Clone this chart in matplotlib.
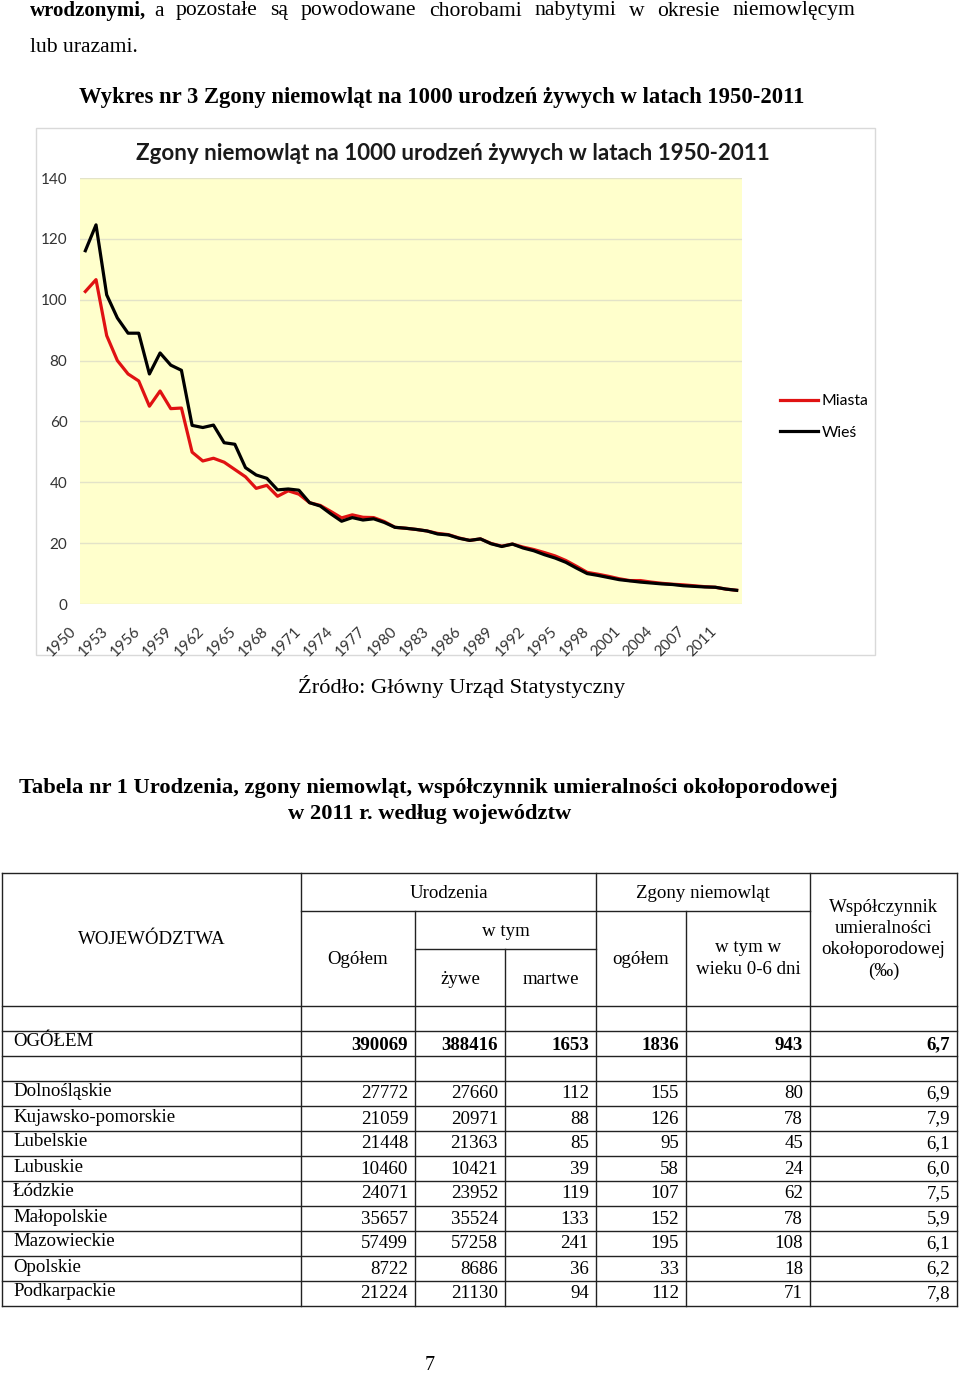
import matplotlib
matplotlib.use("Agg")
import matplotlib.pyplot as plt
from matplotlib.lines import Line2D
from matplotlib.patches import Rectangle
from matplotlib.transforms import ScaledTranslation

# ---------------- data ----------------
years = list(range(1950, 2012))
tick_labels = ['1950', '1953', '1956', '1959', '1962', '1965', '1968', '1971', '1974',
               '1977', '1980', '1983', '1986', '1989', '1992', '1995', '1998', '2001',
               '2004', '2007', '2011']
miasta = [102.7, 106.6, 88.2, 80.0, 75.6, 73.3, 65.0, 70.0, 64.2, 64.4,
          49.9, 47.0, 47.9, 46.6, 44.2, 41.8, 38.0, 39.0, 35.4, 37.2,
          36.1, 33.3, 32.4, 30.4, 28.3, 29.3, 28.5, 28.4, 27.1, 25.2,
          24.9, 24.5, 24.0, 23.2, 22.8, 21.7, 20.9, 21.4, 19.9, 19.0,
          19.7, 18.7, 17.9, 16.9, 15.8, 14.3, 12.4, 10.4, 9.8, 9.1,
          8.3, 7.7, 7.7, 7.2, 6.8, 6.5, 6.3, 6.0, 5.7, 5.5,
          4.9, 4.5]
wies = [116.1, 124.6, 101.6, 94.0, 89.0, 89.0, 75.6, 82.5, 78.5, 76.8,
        58.7, 58.0, 58.8, 53.0, 52.5, 44.8, 42.4, 41.3, 37.5, 37.8,
        37.4, 33.3, 32.2, 29.6, 27.2, 28.4, 27.6, 28.0, 26.8, 25.2,
        24.9, 24.5, 24.0, 23.0, 22.7, 21.6, 20.9, 21.4, 19.8, 18.9,
        19.7, 18.4, 17.5, 16.2, 15.1, 13.7, 11.8, 10.0, 9.4, 8.7,
        8.0, 7.6, 7.2, 6.9, 6.6, 6.4, 6.0, 5.8, 5.6, 5.5,
        4.9, 4.5]
y_ticks = [0, 20, 40, 60, 80, 100, 120, 140]

regions = ['Dolnośląskie', 'Kujawsko-pomorskie', 'Lubelskie', 'Lubuskie', 'Łódzkie',
           'Małopolskie', 'Mazowieckie', 'Opolskie', 'Podkarpackie']
ogolem = [27772, 21059, 21448, 10460, 24071, 35657, 57499, 8722, 21224]
zywe = [27660, 20971, 21363, 10421, 23952, 35524, 57258, 8686, 21130]
martwe = [112, 88, 85, 39, 119, 133, 241, 36, 94]
zgony = [155, 126, 95, 58, 107, 152, 195, 33, 112]
zgony06 = [80, 78, 45, 24, 62, 78, 108, 18, 71]
wspol = ['6,9', '7,9', '6,1', '6,0', '7,5', '5,9', '6,1', '6,2', '7,8']
total_row = ['390069', '388416', '1653', '1836', '943', '6,7']

# ---------------- figure ----------------
W, H = 960, 1375
fig = plt.figure(figsize=(W / 100, H / 100), dpi=100)
fig.patch.set_facecolor('white')
renderer = fig.canvas.get_renderer()

SERIF = ['Liberation Serif', 'DejaVu Serif']
SANS = ['Lato', 'DejaVu Sans']


def fx(px):
    return px / W


def fy(py):
    return 1 - py / H


def txt(x, y, s, size, ha='left', va='center', weight='normal', family=SERIF, color='black'):
    return fig.text(fx(x), fy(y), s, fontsize=size, ha=ha, va=va, fontweight=weight,
                    family=family, color=color)


def hline(x0, x1, y, color='#222222', lw=1.0):
    fig.add_artist(Line2D([fx(x0), fx(x1)], [fy(y), fy(y)], color=color, lw=lw,
                          transform=fig.transFigure))


def vline(x, y0, y1, color='#222222', lw=1.0):
    fig.add_artist(Line2D([fx(x), fx(x)], [fy(y0), fy(y1)], color=color, lw=lw,
                          transform=fig.transFigure))


# paragraph text (justified first line)
PS = 15.6
txt(30, 11, 'wrodzonymi,', 15, weight='bold')
words = ['a', 'pozostałe', 'są', 'powodowane', 'chorobami', 'nabytymi', 'w', 'okresie',
         'niemowlęcym']
objs = [txt(0, 11, w, PS) for w in words]
widths = [o.get_window_extent(renderer).width for o in objs]
gap = (855 - 154 - sum(widths)) / (len(words) - 1)
xcur = 154
for o, wd in zip(objs, widths):
    o.set_x(fx(xcur))
    xcur += wd + gap
txt(30, 48, 'lub urazami.', PS)
txt(442, 98, 'Wykres nr 3 Zgony niemowląt na 1000 urodzeń żywych w latach 1950-2011', 16.3,
    ha='center', weight='bold')

# chart frame
fig.add_artist(Rectangle((fx(36), fy(655)), fx(875) - fx(36), fy(128) - fy(655),
                         transform=fig.transFigure, facecolor='white',
                         edgecolor='#d9d9d9', lw=1.0, zorder=0))

# chart axes (plot area)
ax = fig.add_axes([fx(80), fy(604), fx(742) - fx(80), fy(178) - fy(604)])
ax.set_facecolor('#FFFFCC')
idx = list(range(len(years)))
l1, = ax.plot(idx, miasta, color='#E01212', lw=2.3, label='Miasta', zorder=3)
l2, = ax.plot(idx, wies, color='black', lw=2.3, label='Wieś', zorder=4)
ax.set_xlim(-0.5, len(years) - 0.5)
ax.set_ylim(0, 140)
ax.set_yticks(y_ticks)
ax.set_yticklabels([str(v) for v in y_ticks], family=SANS, fontsize=11, color='#333333')
ax.yaxis.grid(True, color='#E3E3C8', lw=1.0)
ax.set_axisbelow(True)
ax.set_xticks(list(range(0, len(tick_labels) * 3, 3)))
ax.set_xticklabels(tick_labels, rotation=45, ha='right', va='center',
                   rotation_mode='anchor', family=SANS, fontsize=11, color='#333333')
ax.tick_params(axis='both', length=0)
ax.tick_params(axis='y', pad=9)
ax.tick_params(axis='x', pad=18)
off = ScaledTranslation(-0.11, 0, fig.dpi_scale_trans)
for lab in ax.get_xticklabels():
    lab.set_transform(lab.get_transform() + off)
for s in ax.spines.values():
    s.set_visible(False)

txt(453, 154, 'Zgony niemowląt na 1000 urodzeń żywych w latach 1950-2011', 16.1,
    ha='center', weight='bold', family=SANS, color='#1a1a1a')

fig.legend(handles=[l1, l2], loc='center left', bbox_to_anchor=(fx(774), fy(417)),
           frameon=False, prop={'family': SANS, 'size': 11.3}, handlelength=2.4,
           handletextpad=0.25, labelspacing=1.12, borderaxespad=0)

txt(462, 687, 'Źródło: Główny Urząd Statystyczny', 16.2, ha='center')

# table title
txt(19, 788, 'Tabela nr 1 Urodzenia, zgony niemowląt, współczynnik umieralności okołoporodowej',
    16.2, weight='bold')
txt(430, 814, 'w 2011 r. według województw', 16.2, ha='center', weight='bold')

# ---------------- table ----------------
cols = [2, 301, 415, 505, 596, 686, 810, 957]
top = 873
r1 = 911
r2 = 949
hdr_bot = 1006
row_lines = [1031, 1056, 1081] + [1081 + 25 * (i + 1) for i in range(len(regions))]
bottom = row_lines[-1]

hline(cols[0], cols[-1], top)
hline(cols[1], cols[6], r1)
hline(cols[2], cols[4], r2)
hline(cols[0], cols[-1], hdr_bot)
for y in row_lines:
    hline(cols[0], cols[-1], y)
vline(cols[0], top, bottom)
vline(cols[-1], top, bottom)
vline(cols[1], top, bottom)
vline(cols[2], r1, bottom)
vline(cols[3], r2, bottom)
vline(cols[4], top, bottom)
vline(cols[5], r1, bottom)
vline(cols[6], top, bottom)

TS = 13.6
txt((cols[0] + cols[1]) / 2, 939, 'WOJEWÓDZTWA', TS, ha='center')
txt((cols[1] + cols[4]) / 2, 893, 'Urodzenia', TS, ha='center')
txt((cols[4] + cols[6]) / 2, 893, 'Zgony niemowląt', TS, ha='center')
txt((cols[1] + cols[2]) / 2, 959, 'Ogółem', TS, ha='center')
txt((cols[2] + cols[4]) / 2, 931, 'w tym', TS, ha='center')
txt((cols[2] + cols[3]) / 2, 979, 'żywe', TS, ha='center')
txt((cols[3] + cols[4]) / 2, 979, 'martwe', TS, ha='center')
txt((cols[4] + cols[5]) / 2, 959, 'ogółem', TS, ha='center')
txt((cols[5] + cols[6]) / 2, 948, 'w tym w', TS, ha='center')
txt((cols[5] + cols[6]) / 2, 969, 'wieku 0-6 dni', TS, ha='center')
for i, s in enumerate(['Współczynnik', 'umieralności', 'okołoporodowej', '(‰)']):
    txt((cols[6] + cols[7]) / 2, 907 + 21.5 * i, s, TS, ha='center')

# total row
txt(13, 1042, 'OGÓŁEM', TS)
for j, v in enumerate(total_row):
    txt(cols[j + 2] - 7, 1045, v, TS, ha='right', weight='bold')

# region rows
for i, name in enumerate(regions):
    yc = 1081 + 25 * i + 12.5
    txt(13, yc - 1.5, name, TS)
    vals = [ogolem[i], zywe[i], martwe[i], zgony[i], zgony06[i], wspol[i]]
    for j, v in enumerate(vals):
        txt(cols[j + 2] - 7, yc + 0.5, str(v), TS, ha='right')

txt(430, 1365, '7', 14.5, ha='center')

fig.savefig('out.png', dpi=100, facecolor='white')
